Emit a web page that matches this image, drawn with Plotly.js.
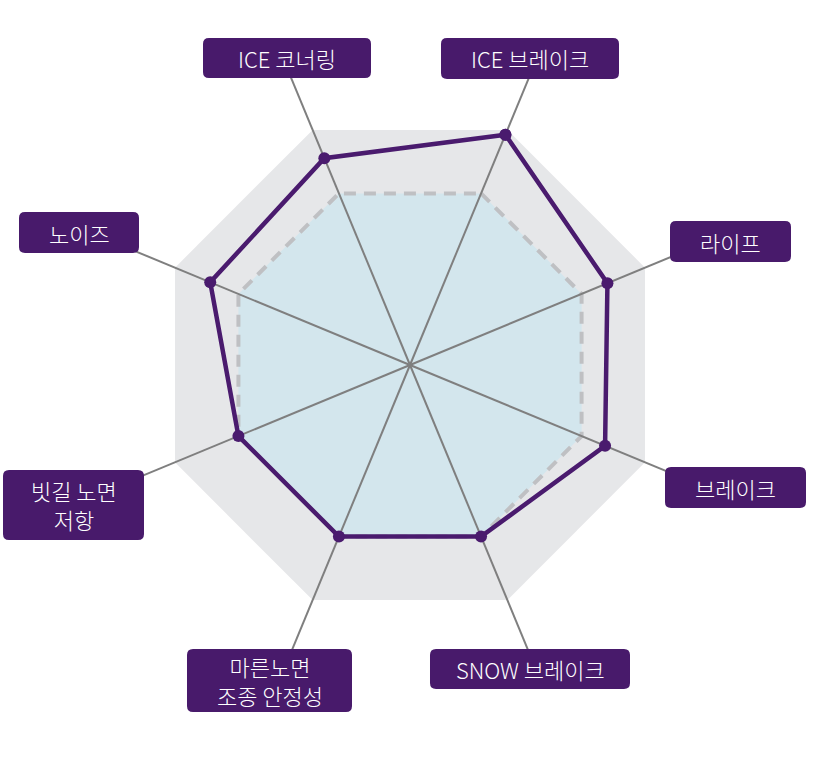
<!DOCTYPE html>
<html>
<head>
<meta charset="utf-8">
<script src="https://cdn.plot.ly/plotly-3.0.1.min.js"></script>
<style>html,body{margin:0;padding:0;background:#fff;}#chart{width:824px;height:764px;}</style>
</head>
<body>
<div id="chart"></div>
<script>
// Categories in clockwise order starting at ICE 브레이크
const categories = ['ICE 브레이크', '라이프', '브레이크', 'SNOW 브레이크', '마른노면 조종 안정성', '빗길 노면 저항', '노이즈', 'ICE 코너링'];
const labelTexts = ['ICE 브레이크', '라이프', '브레이크', 'SNOW 브레이크', '마른노면<br>조종 안정성', '빗길 노면<br>저항', '노이즈', 'ICE 코너링'];
const productValues = [98, 84, 83, 73, 73, 73, 85, 88];
const averageValues = [73, 73, 73, 73, 73, 73, 73, 73];
const scaleMax = 100;
const spokeLength = 125;

// Label box extents in pixels [x0, x1, y0, y1]
const labelBoxes = [
  [441, 619, 38, 79],
  [670, 791, 221, 262],
  [665, 806, 467, 508],
  [430, 630, 649, 689],
  [187, 352, 649, 712],
  [3, 144, 470, 540],
  [19, 139, 212, 253],
  [203, 371, 38, 78]
];

const W = 824, H = 764;
const cx = 410, cy = 365, Rpx = 318;
const close = arr => arr.concat([arr[0]]);

const traces = [];
// gray octagon background
traces.push({
  type: 'scatterpolar', r: close(categories.map(() => scaleMax)), theta: close(categories),
  mode: 'lines', fill: 'toself', fillcolor: '#e6e7e9', line: {width: 0, color: 'rgba(0,0,0,0)'},
  hoverinfo: 'skip'
});
// average (dashed, filled)
traces.push({
  type: 'scatterpolar', r: close(averageValues), theta: close(categories),
  mode: 'lines', fill: 'toself', fillcolor: '#d3e6ed',
  line: {width: 4, color: '#bfc0c3', dash: '12px,8px'},
  hoverinfo: 'skip'
});
// spokes
const sr = [], st = [];
for (let i = 0; i < 4; i++) {
  sr.push(spokeLength, 0, spokeLength, null);
  st.push(categories[i], categories[i], categories[i + 4], null);
}
traces.push({
  type: 'scatterpolar', r: sr, theta: st, mode: 'lines',
  line: {width: 2, color: '#7f7f7f'}, connectgaps: false, hoverinfo: 'skip'
});
// product line
traces.push({
  type: 'scatterpolar', r: close(productValues), theta: close(categories),
  mode: 'lines+markers', line: {width: 4.5, color: '#4a1b6e'},
  marker: {size: 12, color: '#4a1b6e'}, hoverinfo: 'skip'
});

const rr = 6;
const shapes = labelBoxes.map(b => {
  const x0 = b[0], x1 = b[1], y0 = b[2], y1 = b[3];
  const X = v => (v / W).toFixed(5), Y = v => (1 - v / H).toFixed(5);
  const p = `M ${X(x0 + rr)} ${Y(y0)} L ${X(x1 - rr)} ${Y(y0)} Q ${X(x1)} ${Y(y0)} ${X(x1)} ${Y(y0 + rr)} ` +
    `L ${X(x1)} ${Y(y1 - rr)} Q ${X(x1)} ${Y(y1)} ${X(x1 - rr)} ${Y(y1)} ` +
    `L ${X(x0 + rr)} ${Y(y1)} Q ${X(x0)} ${Y(y1)} ${X(x0)} ${Y(y1 - rr)} ` +
    `L ${X(x0)} ${Y(y0 + rr)} Q ${X(x0)} ${Y(y0)} ${X(x0 + rr)} ${Y(y0)} Z`;
  return {type: 'path', xref: 'paper', yref: 'paper', path: p, fillcolor: '#481a6b',
    line: {width: 0}, layer: 'above'};
});
const annotations = labelBoxes.map((b, i) => ({
  xref: 'paper', yref: 'paper', x: (b[0] + b[1]) / 2 / W, y: 1 - (b[2] + b[3]) / 2 / H,
  xanchor: 'center', yanchor: 'middle', showarrow: false, text: labelTexts[i],
  font: {family: '"Noto Sans CJK KR", "Noto Sans", sans-serif', size: 22, weight: 300, color: '#ffffff'}
}));

const layout = {
  width: W, height: H, margin: {l: 0, r: 0, t: 0, b: 0},
  paper_bgcolor: '#ffffff', showlegend: false,
  polar: {
    domain: {x: [(cx - Rpx) / W, (cx + Rpx) / W], y: [1 - (cy + Rpx) / H, 1 - (cy - Rpx) / H]},
    bgcolor: 'rgba(0,0,0,0)',
    radialaxis: {visible: false, range: [0, spokeLength]},
    angularaxis: {type: 'category', categoryarray: categories, rotation: 67.5, direction: 'clockwise',
      showgrid: false, showline: false, showticklabels: false, ticks: ''}
  },
  shapes: shapes, annotations: annotations
};
Plotly.newPlot('chart', traces, layout, {displayModeBar: false, staticPlot: true});
</script>
</body>
</html>
